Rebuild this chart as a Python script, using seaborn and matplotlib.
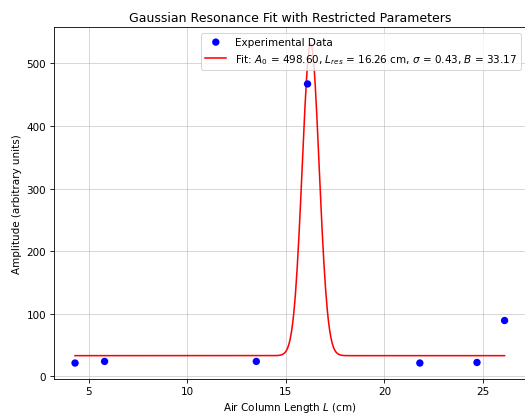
import numpy as np
import pandas as pd
import seaborn as sns
import matplotlib.pyplot as plt

# measured data
length_cm = [4.3, 5.8, 13.5, 16.1, 21.8, 24.7, 26.1]
amplitude = [21.4, 24.0, 24.0, 467.0, 21.4, 22.3, 89.3]

# fit parameters (from legend)
A0 = 498.60
L_res = 16.26
sigma = 0.43
B = 33.17


def gaussian(L, A0, L_res, sigma, B):
    return A0 * np.exp(-(L - L_res) ** 2 / (2 * sigma ** 2)) + B


df = pd.DataFrame({"L": length_cm, "amp": amplitude})
L_fit = np.linspace(min(length_cm), max(length_cm), 500)
fit_df = pd.DataFrame({"L": L_fit, "amp": gaussian(L_fit, A0, L_res, sigma, B)})

fig = plt.figure(figsize=(7.0, 5.56), dpi=75)
ax = fig.add_axes([0.102, 0.0887, 0.90, 0.843])

sns.scatterplot(data=df, x="L", y="amp", ax=ax, color="blue", s=50,
                edgecolor="none", label="Experimental Data", zorder=3)
fit_label = (rf"Fit: $A_0$ = {A0:.2f}, $L_{{res}}$ = {L_res:.2f} cm, "
             rf"$\sigma$ = {sigma:.2f}, $B$ = {B:.2f}")
sns.lineplot(data=fit_df, x="L", y="amp", ax=ax, color="red", linewidth=1.5,
             label=fit_label, zorder=2)

ax.set_title("Gaussian Resonance Fit with Restricted Parameters", fontsize=12)
ax.set_xlabel(r"Air Column Length $L$ (cm)", fontsize=10)
ax.set_ylabel("Amplitude (arbitrary units)", fontsize=10)
ax.tick_params(labelsize=10)
ax.grid(True, alpha=0.6)
ax.legend(loc="upper right", fontsize=10)

plt.savefig("out.png", dpi=75)
